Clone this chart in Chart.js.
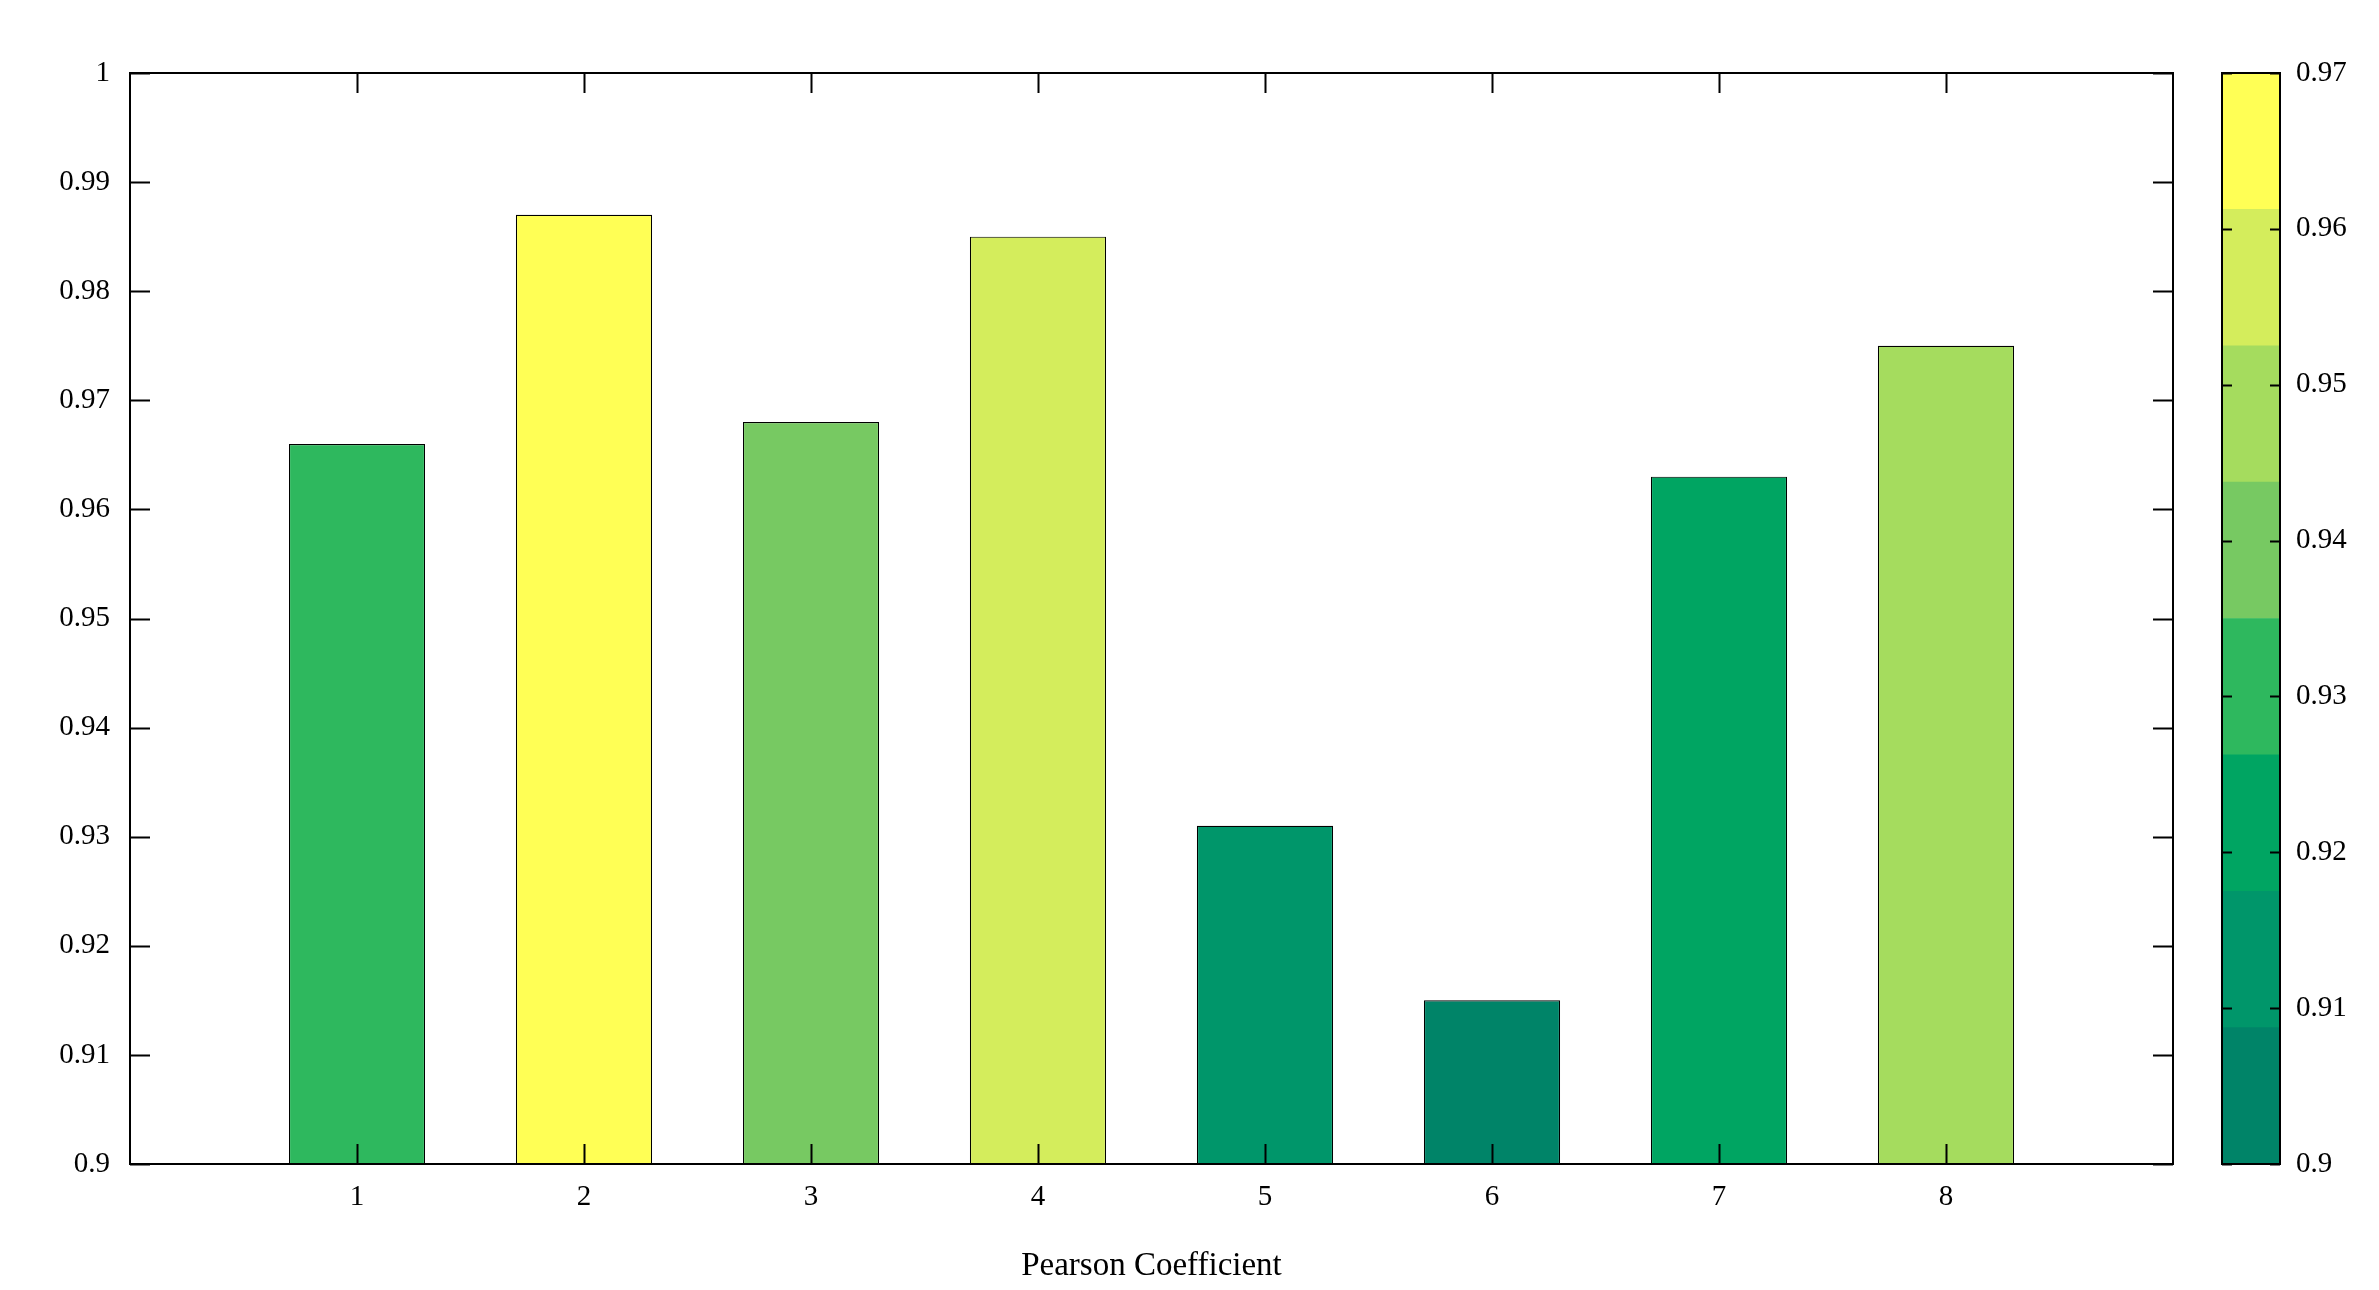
<!DOCTYPE html>
<html>
<head>
<meta charset="utf-8">
<script src="https://cdn.jsdelivr.net/npm/chart.js@4"></script>
<style>
  body { margin: 0; background: #fff; width: 2379px; height: 1290px; overflow: hidden; }
  #main { position: absolute; left: 0; top: 0; }
  #bar { position: absolute; left: 2150px; top: 0; }
</style>
</head>
<body>
<canvas id="main" width="2200" height="1290"></canvas>
<canvas id="bar" width="229" height="1290"></canvas>
<script>
// data
const positions = ['0', '1', '2', '3', '4', '5', '6', '7', '8', '9'];
const pearson = [null, 0.966, 0.987, 0.968, 0.985, 0.931, 0.915, 0.963, 0.975, null];
const barColors = [null, '#2eb85e', '#ffff55', '#77c962', '#d4ed5c', '#00966a', '#008468', '#00a562', '#a5dc5e', null];
const yTicks = [0.9, 0.91, 0.92, 0.93, 0.94, 0.95, 0.96, 0.97, 0.98, 0.99, 1];
const cbarColors = ['#008468', '#00966a', '#00a562', '#2eb85e', '#77c962', '#a5dc5e', '#d4ed5c', '#ffff55'];
const cbarStep = 0.00875;
const cbarTicks = [0.9, 0.91, 0.92, 0.93, 0.94, 0.95, 0.96, 0.97];

const font = { family: 'Liberation Serif', size: 29 };
Chart.defaults.color = '#000';
Chart.defaults.animation = false;

// box axes with inward ticks on all four sides
const boxTicks = {
  id: 'boxTicks',
  afterDraw(chart, args, opts) {
    const { ctx, chartArea: a, scales } = chart;
    ctx.save();
    ctx.strokeStyle = '#000';
    ctx.lineWidth = 2;
    ctx.strokeRect(a.left, a.top, a.right - a.left, a.bottom - a.top);
    const len = opts.len || 13;
    if (opts.y) {
      scales.y.ticks.forEach(t => {
        const py = Math.round(scales.y.getPixelForValue(t.value)) + 0.5;
        ctx.beginPath();
        ctx.moveTo(a.left, py); ctx.lineTo(a.left + len, py);
        ctx.moveTo(a.right, py); ctx.lineTo(a.right - len, py);
        ctx.stroke();
      });
    }
    if (opts.x) {
      for (let i = 1; i <= 8; i++) {
        const px = Math.round(scales.x.getPixelForValue(i)) + 0.5;
        ctx.beginPath();
        ctx.moveTo(px, a.top); ctx.lineTo(px, a.top + len);
        ctx.moveTo(px, a.bottom); ctx.lineTo(px, a.bottom - len);
        ctx.stroke();
      }
    }
    ctx.restore();
  }
};

new Chart(document.getElementById('main'), {
  type: 'bar',
  data: {
    labels: positions,
    datasets: [{
      data: pearson,
      backgroundColor: barColors,
      borderColor: '#000',
      borderWidth: 1.2,
      borderSkipped: false,
      categoryPercentage: 1,
      barPercentage: 0.6
    }]
  },
  options: {
    responsive: false,
    layout: { padding: { top: 73, right: 27, left: 0, bottom: 0 } },
    plugins: {
      legend: { display: false },
      tooltip: { enabled: false },
      boxTicks: { x: true, y: true, len: 20 }
    },
    scales: {
      x: {
        offset: false,
        grid: { display: false },
        border: { display: false },
        ticks: {
          font, padding: 8, maxRotation: 0, autoSkip: false,
          callback: (v, i) => (i >= 1 && i <= 8) ? positions[i] : ''
        },
        title: { display: true, text: 'Pearson Coefficient', font: { family: 'Liberation Serif', size: 33 }, padding: { top: 0 } },
        afterFit: s => { s.height = 126; }
      },
      y: {
        min: 0.9, max: 1,
        afterBuildTicks: s => { s.ticks = yTicks.map(v => ({ value: v })); },
        grid: { display: false },
        border: { display: false },
        ticks: { font, padding: 12, callback: v => String(+v.toFixed(2)) },
        afterFit: s => { s.width = 130; }
      }
    }
  },
  plugins: [boxTicks]
});

// colour bar: eight stacked bands
new Chart(document.getElementById('bar'), {
  type: 'bar',
  data: {
    labels: [''],
    datasets: cbarColors.map((c, i) => ({
      data: [i === 0 ? 0.9 + cbarStep : cbarStep],
      backgroundColor: c,
      borderWidth: 0,
      categoryPercentage: 1,
      barPercentage: 1
    }))
  },
  options: {
    responsive: false,
    layout: { padding: { top: 73, bottom: 126, left: 72, right: 0 } },
    plugins: {
      legend: { display: false },
      tooltip: { enabled: false },
      boxTicks: { y: true, len: 10 }
    },
    scales: {
      x: { display: false, stacked: true },
      y: {
        stacked: true,
        position: 'right',
        min: 0.9, max: 0.97,
        afterBuildTicks: s => { s.ticks = cbarTicks.map(v => ({ value: v })); },
        grid: { display: false },
        border: { display: false },
        ticks: { font, padding: 8, callback: v => String(+v.toFixed(2)) },
        afterFit: s => { s.width = 99; }
      }
    }
  },
  plugins: [boxTicks]
});
</script>
</body>
</html>
